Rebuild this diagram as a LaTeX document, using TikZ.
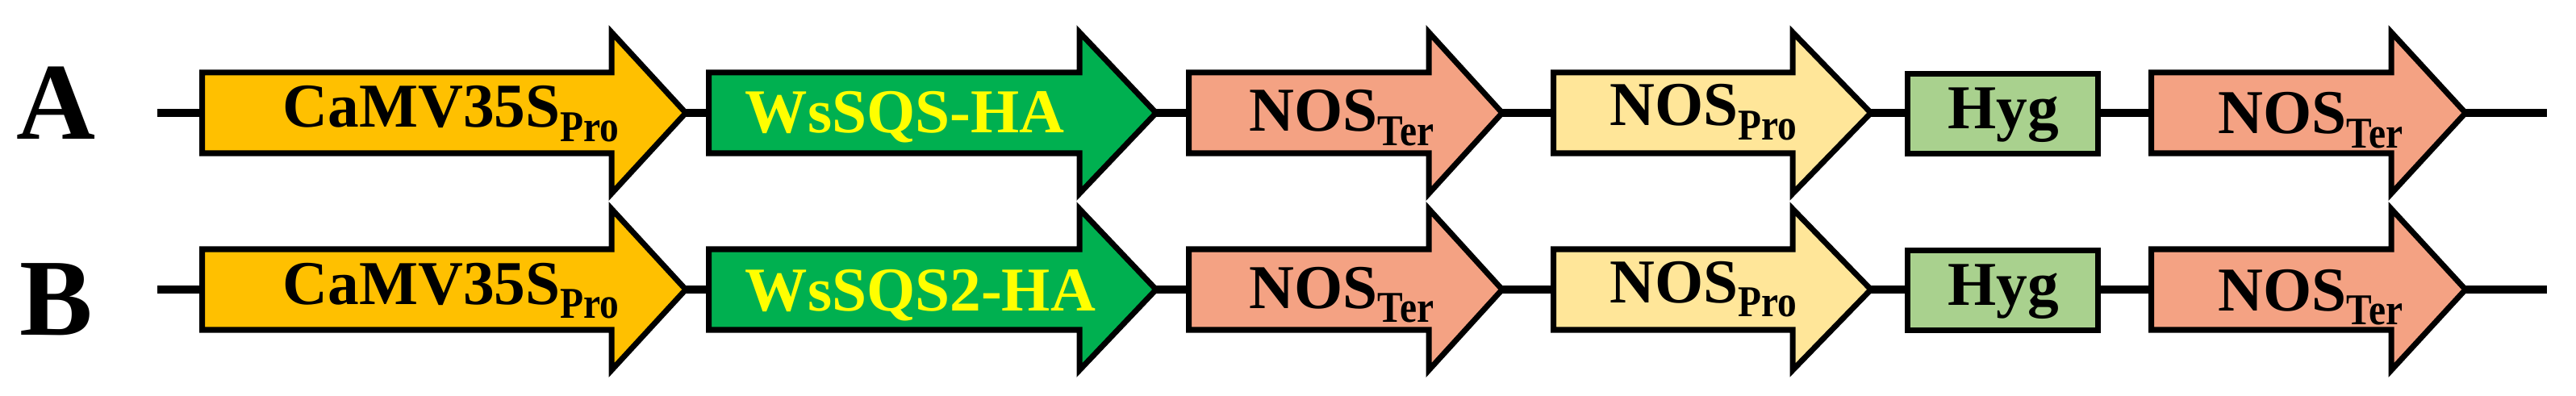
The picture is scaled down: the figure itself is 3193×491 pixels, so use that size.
\documentclass[tikz,border=0pt]{standalone}
\usepackage{fontspec}
\usepackage{graphicx}
\setmainfont{Liberation Serif}
\usetikzlibrary{calc}
\definecolor{cOrange}{HTML}{FFC000}
\definecolor{cGreen}{HTML}{00B050}
\definecolor{cSalmon}{HTML}{F4A283}
\definecolor{cLtYellow}{HTML}{FFE699}
\definecolor{cHyg}{HTML}{A9D18E}
\definecolor{cText}{HTML}{FFFF00}
\newcommand\subtxt[1]{\raisebox{-5.1pt}{\scalebox{0.87}[1]{\fontsize{15.5}{18}\selectfont #1}}}
\newcommand\genearrow[6]{%
  \draw[shapeline, fill=#6] (#2+3.5,#5-50) -- (#3,#5-50) -- (#3,#5-100) -- (#4-5,#5) -- (#3,#5+100) -- (#3,#5+50) -- (#2+3.5,#5+50) -- cycle;
  \coordinate (#1w) at (#2+3.5,#5);
  \coordinate (#1e) at (#4-5,#5);
}
\pgfdeclarelayer{bg}
\pgfsetlayers{bg,main}
\tikzset{
  shapeline/.style={draw=black, line width=0.07cm, line join=miter, miter limit=20},
  wire/.style={draw=black, line width=0.105cm},
  lbl/.style={inner sep=0pt, font=\fontsize{22}{26}\selectfont\bfseries},
  rowlbl/.style={inner sep=0pt, font=\fontsize{38.6}{44}\selectfont\bfseries},
  hygbox/.style={shapeline, fill=cHyg, minimum width=2.36cm, minimum height=0.99cm, inner sep=0pt}
}
\begin{document}
\begin{tikzpicture}[x=0.01cm, y=-0.01cm]
\useasboundingbox (0,0) rectangle (3193,491);
% row labels
\node[rowlbl, anchor=base] (labA) at (70,173) {A};
\node[rowlbl, anchor=base] (labB) at (70,415) {B};
% ---------- Row A ----------
\genearrow{a1}{247}{758}{855}{140}{cOrange}
\genearrow{a2}{875}{1338}{1438}{140}{cGreen}
\genearrow{a3}{1470}{1771}{1867}{140}{cSalmon}
\genearrow{a4}{1922}{2222}{2324}{140}{cLtYellow}
\node[hygbox] (hygA) at (2482.5,141) {};
\genearrow{a6}{2663}{2964}{3061}{140}{cSalmon}
\coordinate (a0) at (195,140);
\coordinate (a7) at (3157,140);
\begin{pgfonlayer}{bg}
\draw[wire] (a0) -- (a1w);
\draw[wire] (a1e) -- (a2w);
\draw[wire] (a2e) -- (a3w);
\draw[wire] (a3e) -- (a4w);
\draw[wire] (a4e) -- (a4e -| hygA.west);
\draw[wire] (a6w -| hygA.east) -- (a6w);
\draw[wire] (a6e) -- (a7);
\end{pgfonlayer}
\node[lbl, anchor=base west] (tA1) at (350,158) {CaMV35S\subtxt{Pro}};
\node[lbl, anchor=base west, text=cText] (tA2) at (923,165) {WsSQS-HA};
\node[lbl, anchor=base west] (tA3) at (1548,163) {NOS\subtxt{Ter}};
\node[lbl, anchor=base west] (tA4) at (1995,156) {NOS\subtxt{Pro}};
\node[lbl, anchor=base west] (tA5) at (2414,160) {Hyg};
\node[lbl, anchor=base west] (tA6) at (2749,166) {NOS\subtxt{Ter}};
% ---------- Row B ----------
\genearrow{b1}{247}{758}{855}{359}{cOrange}
\genearrow{b2}{875}{1338}{1438}{359}{cGreen}
\genearrow{b3}{1470}{1771}{1867}{359}{cSalmon}
\genearrow{b4}{1922}{2222}{2324}{359}{cLtYellow}
\node[hygbox] (hygB) at (2482.5,360) {};
\genearrow{b6}{2663}{2964}{3061}{359}{cSalmon}
\coordinate (b0) at (195,359);
\coordinate (b7) at (3157,359);
\begin{pgfonlayer}{bg}
\draw[wire] (b0) -- (b1w);
\draw[wire] (b1e) -- (b2w);
\draw[wire] (b2e) -- (b3w);
\draw[wire] (b3e) -- (b4w);
\draw[wire] (b4e) -- (b4e -| hygB.west);
\draw[wire] (b6w -| hygB.east) -- (b6w);
\draw[wire] (b6e) -- (b7);
\end{pgfonlayer}
\node[lbl, anchor=base west] (tB1) at (350,377) {CaMV35S\subtxt{Pro}};
\node[lbl, anchor=base west, text=cText] (tB2) at (923,385) {WsSQS2-HA};
\node[lbl, anchor=base west] (tB3) at (1548,382) {NOS\subtxt{Ter}};
\node[lbl, anchor=base west] (tB4) at (1995,375) {NOS\subtxt{Pro}};
\node[lbl, anchor=base west] (tB5) at (2414,379) {Hyg};
\node[lbl, anchor=base west] (tB6) at (2749,385) {NOS\subtxt{Ter}};
\end{tikzpicture}
\end{document}
